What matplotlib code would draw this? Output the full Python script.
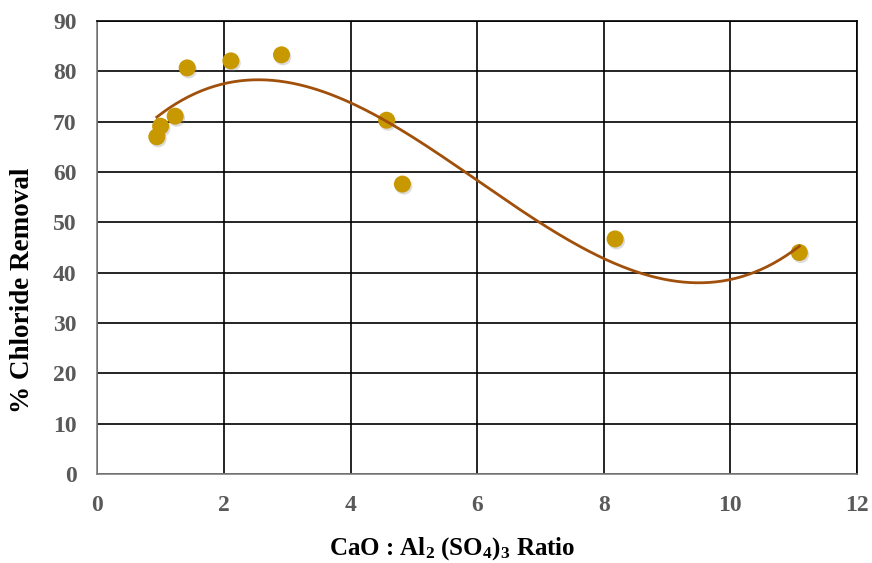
import numpy as np
import matplotlib
matplotlib.use("Agg")
import matplotlib.pyplot as plt
import matplotlib.patheffects as pe

ratio = [0.94, 1.00, 1.23, 1.42, 2.11, 2.91, 4.57, 4.82, 8.18, 11.09]
removal = [67.0, 69.1, 71.1, 80.7, 82.1, 83.3, 70.3, 57.6, 46.7, 44.0]
x_ticks = [0, 2, 4, 6, 8, 10, 12]
y_ticks = [0, 10, 20, 30, 40, 50, 60, 70, 80, 90]

plt.rcParams['font.family'] = ['Liberation Serif', 'DejaVu Serif']
plt.rcParams['font.weight'] = 'bold'
plt.rcParams['mathtext.fontset'] = 'custom'
plt.rcParams['mathtext.rm'] = 'Liberation Serif:bold'
plt.rcParams['mathtext.bf'] = 'Liberation Serif:bold'
plt.rcParams['mathtext.it'] = 'Liberation Serif:bold'
plt.rcParams['mathtext.default'] = 'bf'

W, H = 872, 563
fig = plt.figure(figsize=(W / 100, H / 100), dpi=100)
ax = fig.add_axes([0.1116, 0.1584, 0.8711, 0.8041])

ax.set_xlim(0, 12)
ax.set_ylim(0, 90)
ax.set_xticks(x_ticks)
ax.set_yticks(y_ticks)
ax.grid(True, color='black', linewidth=1.2)
ax.set_axisbelow(True)
ax.tick_params(length=0, labelsize=17, labelcolor='#595959')
ax.tick_params(axis='x', pad=15)
ax.tick_params(axis='y', pad=15)
for lab in ax.get_xticklabels() + ax.get_yticklabels():
    lab.set_fontweight('bold')
for s in ['left', 'bottom']:
    ax.spines[s].set_color('#808080')
    ax.spines[s].set_linewidth(1.2)
for s in ['top', 'right']:
    ax.spines[s].set_color('black')
    ax.spines[s].set_linewidth(1.2)

# cubic trendline
coef = np.polyfit(ratio, removal, 3)
xs = np.linspace(min(ratio), max(ratio), 300)
ax.plot(xs, np.polyval(coef, xs), color='#A0500A', linewidth=2.0, zorder=4)

ax.scatter(ratio, removal, s=150, color='#C89800', edgecolors='none', zorder=3,
           path_effects=[pe.SimplePatchShadow(offset=(1, -1.5), shadow_rgbFace='#777777', alpha=0.25), pe.Normal()])

fig.text(452 / W, 1 - 555 / H, r"CaO : Al$_2$ (SO$_4$)$_3$ Ratio", fontsize=18,
         fontweight='bold', ha='center', va='baseline')
fig.text(23 / W, 1 - 290 / H, "% Chloride Removal", fontsize=19.5, fontweight='bold',
         ha='center', va='center', rotation=90)

fig.savefig("out.png", dpi=100)
